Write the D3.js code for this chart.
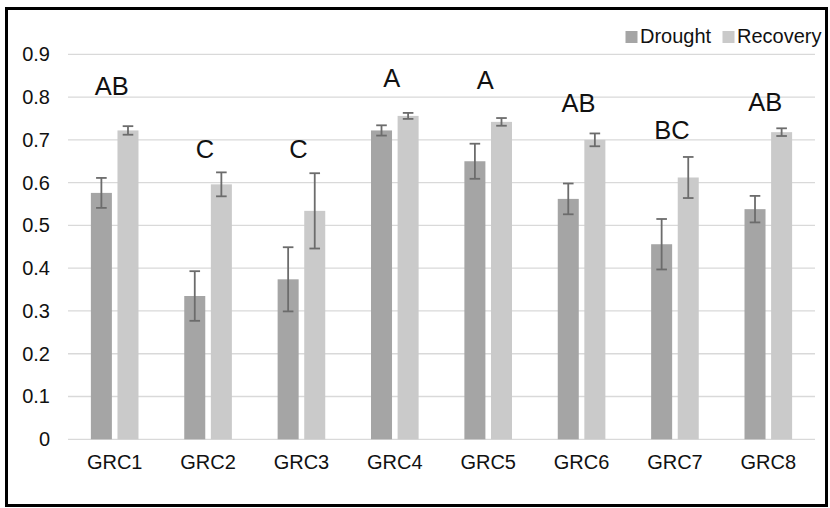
<!DOCTYPE html>
<html>
<head>
<meta charset="utf-8">
<script src="https://cdn.jsdelivr.net/npm/d3@7"></script>
<style>
  html, body { margin: 0; padding: 0; background: #fff; }
  svg { display: block; }
  text { font-family: "Liberation Sans", Arial, sans-serif; fill: #111; }
</style>
</head>
<body>
<svg id="chart" width="830" height="508"></svg>
<script>
// Genotype groups and the two measurement periods
const categories = ["GRC1", "GRC2", "GRC3", "GRC4", "GRC5", "GRC6", "GRC7", "GRC8"];
const series = ["Drought", "Recovery"];

// Means and error (± half-range) per group
const droughtValues  = [0.576, 0.335, 0.374, 0.722, 0.650, 0.562, 0.456, 0.538];
const droughtErrors  = [0.035, 0.058, 0.075, 0.012, 0.041, 0.036, 0.059, 0.031];
const recoveryValues = [0.722, 0.596, 0.534, 0.756, 0.742, 0.700, 0.612, 0.718];
const recoveryErrors = [0.010, 0.028, 0.088, 0.007, 0.009, 0.015, 0.048, 0.009];

// Significance letters and the level at which each is written
const letters     = ["AB", "C", "C", "A", "A", "AB", "BC", "AB"];
const letterLevel = [0.826, 0.678, 0.678, 0.844, 0.840, 0.787, 0.723, 0.789];

const yTicks = [0, 0.1, 0.2, 0.3, 0.4, 0.5, 0.6, 0.7, 0.8, 0.9];

const colors = { Drought: "#a5a5a5", Recovery: "#cacaca" };

const svg = d3.select("#chart");

const x0 = d3.scaleBand().domain(categories).range([68, 815]).padding(0);
const x1 = d3.scaleBand().domain(series).range([0, x0.bandwidth()])
  .paddingInner(0.21).paddingOuter(0.86);
const y = d3.scaleLinear().domain([0, 0.9]).range([439.3, 54.3]);

// Horizontal gridlines (including the baseline)
svg.append("g").selectAll("line").data(yTicks).join("line")
  .attr("x1", 68).attr("x2", 815)
  .attr("y1", d => y(d)).attr("y2", d => y(d))
  .attr("stroke", "#d9d9d9").attr("stroke-width", 1.3);

// Y axis labels
const yAxis = d3.axisLeft(y).tickValues(yTicks).tickSize(0).tickPadding(0)
  .tickFormat(d => d === 0 ? "0" : d3.format(".1f")(d));
const yg = svg.append("g").attr("transform", "translate(50,0)").call(yAxis);
yg.select(".domain").remove();
yg.selectAll("text").attr("font-size", 20).attr("fill", "#111")
  .attr("font-family", "Liberation Sans, Arial, sans-serif");

// X axis labels
const xAxis = d3.axisBottom(x0).tickSize(0).tickPadding(0);
const xg = svg.append("g").attr("transform", "translate(0,455)").call(xAxis);
xg.select(".domain").remove();
xg.selectAll("text").attr("font-size", 20).attr("fill", "#111").attr("dy", "0.72em")
  .attr("font-family", "Liberation Sans, Arial, sans-serif");

// Build rows for bars
const rows = categories.map((c, i) => ({
  cat: c,
  items: [
    { s: "Drought",  v: droughtValues[i],  e: droughtErrors[i] },
    { s: "Recovery", v: recoveryValues[i], e: recoveryErrors[i] }
  ]
}));

const groups = svg.append("g").selectAll("g").data(rows).join("g")
  .attr("transform", d => `translate(${x0(d.cat)},0)`);

groups.selectAll("rect").data(d => d.items).join("rect")
  .attr("x", d => x1(d.s))
  .attr("width", x1.bandwidth())
  .attr("y", d => y(d.v))
  .attr("height", d => y(0) - y(d.v))
  .attr("fill", d => colors[d.s]);

// Error bars
const capHalf = 5.3;
const eb = groups.selectAll("g.err").data(d => d.items).join("g").attr("class", "err")
  .attr("stroke", "#6c6c6c").attr("stroke-width", 1.8);
eb.append("line")
  .attr("x1", d => x1(d.s) + x1.bandwidth() / 2).attr("x2", d => x1(d.s) + x1.bandwidth() / 2)
  .attr("y1", d => y(d.v + d.e)).attr("y2", d => y(d.v - d.e));
eb.append("line")
  .attr("x1", d => x1(d.s) + x1.bandwidth() / 2 - capHalf).attr("x2", d => x1(d.s) + x1.bandwidth() / 2 + capHalf)
  .attr("y1", d => y(d.v + d.e)).attr("y2", d => y(d.v + d.e));
eb.append("line")
  .attr("x1", d => x1(d.s) + x1.bandwidth() / 2 - capHalf).attr("x2", d => x1(d.s) + x1.bandwidth() / 2 + capHalf)
  .attr("y1", d => y(d.v - d.e)).attr("y2", d => y(d.v - d.e));

// Significance letters
svg.append("g").selectAll("text").data(categories).join("text")
  .attr("x", c => x0(c) + x0.bandwidth() / 2 - 3)
  .attr("y", (c, i) => y(letterLevel[i]))
  .attr("dy", "0.36em")
  .attr("text-anchor", "middle")
  .attr("font-size", 25.5)
  .text((c, i) => letters[i]);

// Legend
const legendX = [625.5, 722.5];
const lg = svg.append("g").selectAll("g").data(series).join("g")
  .attr("transform", (d, i) => `translate(${legendX[i]},31)`);
lg.append("rect").attr("width", 12).attr("height", 12).attr("fill", d => colors[d]);
lg.append("text").attr("x", 14.5).attr("y", 12.3).attr("font-size", 20).text(d => d);

// Outer frame
svg.append("rect").attr("x", 6.5).attr("y", 8.5).attr("width", 820).attr("height", 497)
  .attr("fill", "none").attr("stroke", "#000").attr("stroke-width", 3);
</script>
</body>
</html>
